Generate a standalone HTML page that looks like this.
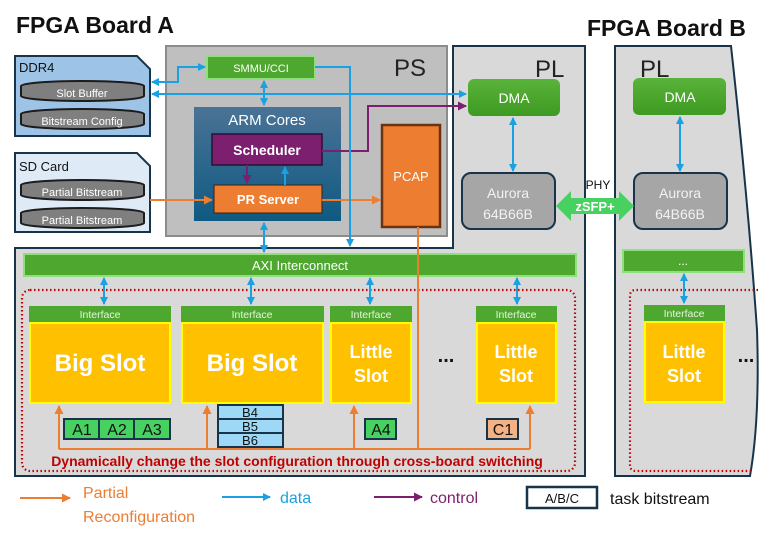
<!DOCTYPE html>
<html><head><meta charset="utf-8"><style>
body{margin:0;background:#fff;width:773px;height:539px;overflow:hidden}
svg{display:block;font-family:"Liberation Sans","DejaVu Sans",sans-serif}
</style></head><body>
<svg width="773" height="539" viewBox="0 0 773 539" xmlns="http://www.w3.org/2000/svg">
<defs>
<marker id="ab" markerWidth="8" markerHeight="8" refX="7" refY="4" orient="auto-start-reverse" markerUnits="userSpaceOnUse"><path d="M0,0 L8,4 L0,8 z" fill="#1ba1e2"/></marker>
<marker id="ao" markerWidth="9" markerHeight="9" refX="8" refY="4.5" orient="auto" markerUnits="userSpaceOnUse"><path d="M0,0 L9,4.5 L0,9 z" fill="#ed7d31"/></marker>
<marker id="ap" markerWidth="9" markerHeight="9" refX="8" refY="4.5" orient="auto" markerUnits="userSpaceOnUse"><path d="M0,0 L9,4.5 L0,9 z" fill="#7b1f6e"/></marker>
<linearGradient id="arm" x1="0" y1="0" x2="0" y2="1"><stop offset="0" stop-color="#4a7396"/><stop offset="1" stop-color="#0f5a82"/></linearGradient>
<linearGradient id="dma" x1="0" y1="0" x2="0" y2="1"><stop offset="0" stop-color="#5ab33a"/><stop offset="1" stop-color="#3e9a22"/></linearGradient>
</defs>

<!-- titles -->
<text x="16" y="33" font-size="23" font-weight="bold" fill="#111">FPGA Board A</text>
<text x="587" y="36" font-size="23" font-weight="bold" fill="#111">FPGA Board B</text>

<!-- board A PL region -->
<path d="M453,46 L585,46 L585,476 L15,476 L15,248 L453,248 Z" fill="#d9d9d9" stroke="#17344a" stroke-width="2"/>
<!-- PS -->
<rect x="166" y="46" width="281" height="190" fill="#bfbfbf" stroke="#8c8c8c" stroke-width="2"/>
<text x="394" y="76" font-size="24" fill="#222">PS</text>
<text x="535" y="77" font-size="24" fill="#222">PL</text>

<!-- board B -->
<path d="M615,46 L731,46 Q748,200 757,330 Q760,420 750,476 L615,476 Z" fill="#d9d9d9" stroke="#17344a" stroke-width="2"/>
<text x="640" y="77" font-size="24" fill="#222">PL</text>

<!-- DDR4 -->
<path d="M15,56 L137,56 L150,69 L150,136 L15,136 Z" fill="#9dc3e6" stroke="#17344a" stroke-width="2"/>
<text x="19" y="72" font-size="13" fill="#111">DDR4</text>
<path d="M15,153 L137,153 L150,166 L150,232 L15,232 Z" fill="#deebf7" stroke="#17344a" stroke-width="2"/>
<text x="19" y="171" font-size="13" fill="#111">SD Card</text>
<g stroke="#1c1c1c" stroke-width="2" fill="#7f7f7f">
<rect x="21" y="81" width="123" height="20" rx="61" ry="5"/>
<rect x="21" y="109" width="123" height="20" rx="61" ry="5"/>
<rect x="21" y="180" width="123" height="20" rx="61" ry="5"/>
<rect x="21" y="208" width="123" height="20" rx="61" ry="5"/>
</g>
<g font-size="11" fill="#fff" text-anchor="middle">
<text x="82" y="97">Slot Buffer</text>
<text x="82" y="125">Bitstream Config</text>
<text x="82" y="196">Partial Bitstream</text>
<text x="82" y="224">Partial Bitstream</text>
</g>

<!-- SMMU -->
<rect x="207" y="56" width="108" height="23" fill="#4ea72e" stroke="#8fe07a" stroke-width="2"/>
<text x="261" y="72" font-size="11" fill="#fff" text-anchor="middle">SMMU/CCI</text>

<!-- ARM -->
<rect x="194" y="107" width="147" height="114" fill="url(#arm)"/>
<text x="267" y="125" font-size="15" fill="#fff" text-anchor="middle">ARM Cores</text>
<rect x="212" y="134" width="110" height="31" fill="#7b1f6e" stroke="#2b1030" stroke-width="1.5"/>
<text x="267" y="155" font-size="14" font-weight="bold" fill="#fff" text-anchor="middle">Scheduler</text>
<rect x="214" y="185" width="108" height="28" fill="#ed7d31" stroke="#3a2010" stroke-width="1"/>
<text x="268" y="204" font-size="13" font-weight="bold" fill="#fff" text-anchor="middle">PR Server</text>

<!-- PCAP -->
<rect x="382" y="125" width="58" height="102" fill="#ed7d31" stroke="#6b3310" stroke-width="2.5"/>
<text x="411" y="181" font-size="13" fill="#fff" text-anchor="middle">PCAP</text>

<!-- DMA A / B -->
<rect x="468" y="79" width="92" height="37" rx="6" fill="url(#dma)"/>
<text x="514" y="103" font-size="14" fill="#fff" text-anchor="middle">DMA</text>
<rect x="633" y="78" width="93" height="37" rx="6" fill="url(#dma)"/>
<text x="680" y="102" font-size="14" fill="#fff" text-anchor="middle">DMA</text>

<!-- Aurora -->
<rect x="462" y="173" width="93" height="56" rx="9" fill="#a6a6a6" stroke="#17344a" stroke-width="2"/>
<text x="508" y="198" font-size="14" fill="#f2f2f2" text-anchor="middle">Aurora</text>
<text x="508" y="219" font-size="14" fill="#f2f2f2" text-anchor="middle">64B66B</text>
<rect x="634" y="173" width="93" height="56" rx="9" fill="#a6a6a6" stroke="#17344a" stroke-width="2"/>
<text x="680" y="198" font-size="14" fill="#f2f2f2" text-anchor="middle">Aurora</text>
<text x="680" y="219" font-size="14" fill="#f2f2f2" text-anchor="middle">64B66B</text>

<!-- zSFP+ -->
<path d="M556,206 L571,191 L571,198 L619,198 L619,191 L634,206 L619,221 L619,214 L571,214 L571,221 Z" fill="#46d160"/>
<text x="595" y="211" font-size="13" font-weight="bold" fill="#fff" text-anchor="middle">zSFP+</text>
<text x="598" y="189" font-size="12" fill="#111" text-anchor="middle">PHY</text>

<!-- AXI -->
<rect x="24" y="254" width="552" height="22" fill="#4ea72e" stroke="#8fe07a" stroke-width="2"/>
<text x="300" y="270" font-size="13" fill="#fff" text-anchor="middle">AXI Interconnect</text>
<rect x="623" y="250" width="121" height="22" fill="#4ea72e" stroke="#8fe07a" stroke-width="2"/>
<text x="683" y="265" font-size="12" fill="#fff" text-anchor="middle">...</text>

<!-- dotted regions -->
<rect x="22" y="290" width="553" height="181" rx="8" fill="none" stroke="#c00000" stroke-width="2.2" stroke-dasharray="1.5,2.5"/>
<path d="M758,290 L636,290 Q630,290 630,296 L630,465 Q630,471 636,471 L752,471" fill="none" stroke="#c00000" stroke-width="2.2" stroke-dasharray="1.5,2.5"/>

<!-- slots -->
<g font-size="10.5" fill="#e8f5e0" text-anchor="middle">
<rect x="29" y="306" width="142" height="16" fill="#4ea72e"/><text x="100" y="318">Interface</text>
<rect x="181" y="306" width="143" height="16" fill="#4ea72e"/><text x="252" y="318">Interface</text>
<rect x="330" y="306" width="82" height="16" fill="#4ea72e"/><text x="371" y="318">Interface</text>
<rect x="476" y="306" width="81" height="16" fill="#4ea72e"/><text x="516" y="318">Interface</text>
<rect x="644" y="305" width="81" height="16" fill="#4ea72e"/><text x="684" y="317">Interface</text>
</g>
<g fill="#ffc000" stroke="#ffff00" stroke-width="2">
<rect x="30" y="323" width="140" height="80"/>
<rect x="182" y="323" width="141" height="80"/>
<rect x="331" y="323" width="80" height="80"/>
<rect x="477" y="323" width="79" height="80"/>
<rect x="645" y="322" width="79" height="80"/>
</g>
<g fill="#fff" font-weight="bold" text-anchor="middle">
<text x="100" y="371" font-size="24">Big Slot</text>
<text x="252" y="371" font-size="24">Big Slot</text>
<text x="371" y="358" font-size="18">Little</text><text x="371" y="382" font-size="18">Slot</text>
<text x="516" y="358" font-size="18">Little</text><text x="516" y="382" font-size="18">Slot</text>
<text x="684" y="358" font-size="18">Little</text><text x="684" y="382" font-size="18">Slot</text>
</g>
<text x="446" y="362" font-size="20" font-weight="bold" fill="#111" text-anchor="middle">...</text>
<text x="746" y="362" font-size="20" font-weight="bold" fill="#111" text-anchor="middle">...</text>

<!-- tasks -->
<g stroke="#17344a" stroke-width="2" fill="#46d160">
<rect x="64" y="419" width="35" height="20"/><rect x="99" y="419" width="35" height="20"/><rect x="134" y="419" width="36" height="20"/>
<rect x="365" y="419" width="31" height="20"/>
</g>
<rect x="487" y="419" width="31" height="20" fill="#f4b183" stroke="#17344a" stroke-width="2"/>
<g stroke="#17344a" stroke-width="2" fill="#9dd9f7">
<rect x="218" y="405" width="65" height="14"/><rect x="218" y="419" width="65" height="14"/><rect x="218" y="433" width="65" height="14"/>
</g>
<g font-size="16" fill="#111" text-anchor="middle">
<text x="82" y="435">A1</text><text x="117" y="435">A2</text><text x="152" y="435">A3</text>
<text x="381" y="435">A4</text><text x="503" y="435">C1</text>
</g>
<g font-size="13" fill="#111" text-anchor="middle">
<text x="250" y="417">B4</text><text x="250" y="431">B5</text><text x="250" y="445">B6</text>
</g>
<text x="297" y="466" font-size="14" font-weight="bold" fill="#c00000" text-anchor="middle">Dynamically change the slot configuration through cross-board switching</text>

<!-- orange PR lines -->
<g stroke="#ed7d31" stroke-width="2" fill="none">
<path d="M59,449 L530,449"/>
<path d="M418,227 L418,449"/>
<path d="M59,449 L59,406" marker-end="url(#ao)"/>
<path d="M207,449 L207,406" marker-end="url(#ao)"/>
<path d="M354,449 L354,406" marker-end="url(#ao)"/>
<path d="M530,449 L530,406" marker-end="url(#ao)"/>
<path d="M150,200 L212,200" marker-end="url(#ao)"/>
<path d="M322,200 L380,200" marker-end="url(#ao)"/>
</g>

<!-- purple -->
<g stroke="#7b1f6e" stroke-width="2" fill="none">
<path d="M322,151 L368,151 L368,106 L466,106" marker-end="url(#ap)"/>
<path d="M247,165 L247,183" marker-end="url(#ap)"/>
</g>

<!-- blue data -->
<g stroke="#1ba1e2" stroke-width="2" fill="none">
<path d="M152,82 L178,82 L178,67 L205,67" marker-start="url(#ab)" marker-end="url(#ab)"/>
<path d="M152,94 L466,94" marker-start="url(#ab)" marker-end="url(#ab)"/>
<path d="M264,81 L264,105" marker-start="url(#ab)" marker-end="url(#ab)"/>
<path d="M315,67 L350,67 L350,246"  marker-end="url(#ab)"/>
<path d="M285,185 L285,167" marker-end="url(#ab)"/>
<path d="M264,223 L264,252" marker-start="url(#ab)" marker-end="url(#ab)"/>
<path d="M513,118 L513,171" marker-start="url(#ab)" marker-end="url(#ab)"/>
<path d="M680,117 L680,171" marker-start="url(#ab)" marker-end="url(#ab)"/>
<path d="M104,278 L104,304" marker-start="url(#ab)" marker-end="url(#ab)"/>
<path d="M251,278 L251,304" marker-start="url(#ab)" marker-end="url(#ab)"/>
<path d="M370,278 L370,304" marker-start="url(#ab)" marker-end="url(#ab)"/>
<path d="M517,278 L517,304" marker-start="url(#ab)" marker-end="url(#ab)"/>
<path d="M684,274 L684,303" marker-start="url(#ab)" marker-end="url(#ab)"/>
</g>

<!-- legend -->
<path d="M20,498 L70,498" stroke="#ed7d31" stroke-width="2" marker-end="url(#ao)"/>
<text x="83" y="498" font-size="16" fill="#ed7d31">Partial</text>
<text x="83" y="522" font-size="16" fill="#ed7d31">Reconfiguration</text>
<path d="M222,497 L270,497" stroke="#1ba1e2" stroke-width="2" marker-end="url(#ab)"/>
<text x="280" y="503" font-size="16" fill="#1ba1e2">data</text>
<path d="M374,497 L422,497" stroke="#7b1f6e" stroke-width="2" marker-end="url(#ap)"/>
<text x="430" y="503" font-size="16" fill="#7b1f6e">control</text>
<rect x="527" y="487" width="70" height="21" fill="#fff" stroke="#17344a" stroke-width="2.5"/>
<text x="562" y="503" font-size="13" fill="#111" text-anchor="middle">A/B/C</text>
<text x="610" y="504" font-size="16" fill="#111">task bitstream</text>
</svg>
</body></html>
